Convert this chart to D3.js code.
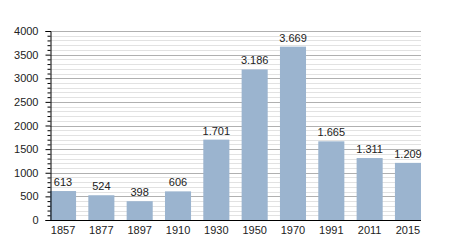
<!doctype html>
<html>
<head>
<meta charset="utf-8"/>
<style>
body{margin:0;background:#fff;}
svg text{font-family:"Liberation Sans",Arial,sans-serif;font-size:11px;fill:#222;}
</style>
<script src="https://d3js.org/d3.v7.min.js"></script>
</head>
<body>
<script>
var years = ["1857","1877","1897","1910","1930","1950","1970","1991","2011","2015"];
var population = [613, 524, 398, 606, 1701, 3186, 3669, 1665, 1311, 1209];
var yTicks = [0, 500, 1000, 1500, 2000, 2500, 3000, 3500, 4000];

var svg = d3.select("body").append("svg")
  .attr("width", 450)
  .attr("height", 250);

var x = d3.scaleBand().domain(years).range([50, 421]).paddingInner(0.32).paddingOuter(0);
var y = d3.scaleLinear().domain([0, 4000]).range([220, 31]);

var fmt = function(v){ return v >= 1000 ? d3.format(",")(v).replace(",", ".") : String(v); };

// grid lines
var minor = d3.range(100, 4001, 100).filter(function(v){ return v % 500 != 0; });
svg.selectAll(".minor").data(minor).enter().append("line")
  .attr("x1", 50).attr("x2", 421)
  .attr("y1", function(d){ return Math.round(y(d)) + 0.5; })
  .attr("y2", function(d){ return Math.round(y(d)) + 0.5; })
  .attr("stroke", "#e2e2e2");
svg.selectAll(".major").data(yTicks.slice(1)).enter().append("line")
  .attr("x1", 50).attr("x2", 421)
  .attr("y1", function(d){ return Math.round(y(d)) + 0.5; })
  .attr("y2", function(d){ return Math.round(y(d)) + 0.5; })
  .attr("stroke", "#b0b0b0");

// bars
svg.selectAll(".bar").data(population).enter().append("rect")
  .attr("x", function(d,i){ return x(years[i]); })
  .attr("y", function(d){ return y(d); })
  .attr("width", x.bandwidth())
  .attr("height", function(d){ return y(0) - y(d); })
  .attr("fill", "#9bb4cf");

// value labels
svg.selectAll(".val").data(population).enter().append("text")
  .attr("x", function(d,i){ return x(years[i]) + x.bandwidth()/2; })
  .attr("y", function(d){ return y(d) - 5; })
  .attr("text-anchor", "middle")
  .text(function(d){ return fmt(d); });

// y axis
var yAxis = d3.axisLeft(y).tickValues(yTicks).tickSize(5).tickPadding(7).tickFormat(d3.format("d"));
var gy = svg.append("g").attr("transform", "translate(50.5,0)").call(yAxis);
gy.select(".domain").attr("stroke", "#000");
gy.selectAll(".tick line").attr("stroke", "#000");
gy.selectAll("text").style("font-size", "11px").style("fill", "#222");

var gm = svg.append("g").attr("transform", "translate(50.5,0)")
  .call(d3.axisLeft(y).tickValues(minor).tickSize(3).tickFormat(""));
gm.select(".domain").remove();
gm.selectAll(".tick line").attr("stroke", "#000");

// x axis
var xAxis = d3.axisBottom(x).tickSize(0).tickPadding(6);
var gx = svg.append("g").attr("transform", "translate(0,220.5)").call(xAxis);
gx.select(".domain").attr("stroke", "#000").attr("d", "M50,0H421");
gx.selectAll("text").style("font-size", "11px").style("fill", "#222");
</script>
</body>
</html>
